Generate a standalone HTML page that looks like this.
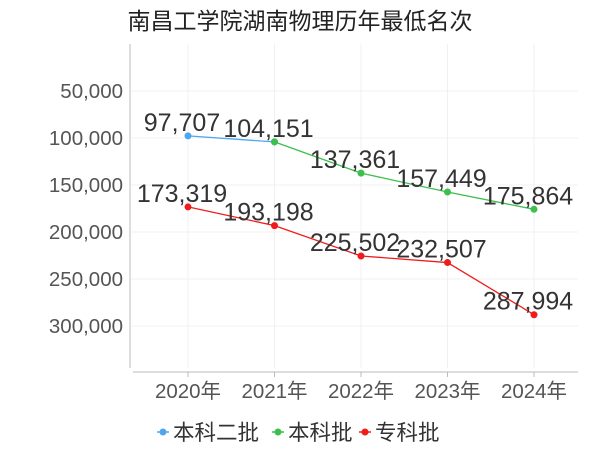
<!DOCTYPE html>
<html><head><meta charset="utf-8"><style>
body{margin:0;background:#fff;font-family:"Liberation Sans","Noto Sans CJK SC",sans-serif}
svg text{font-family:"Liberation Sans","Noto Sans CJK SC",sans-serif}
</style></head><body>
<svg id="c" width="600" height="450">
<text x="300" y="29" font-size="23" text-anchor="middle" fill="#222">南昌工学院湖南物理历年最低名次</text>
<g id="grid"></g><g id="axes"></g><g id="series"></g>
<g id="legend"></g>
</svg>
<script>
const categories=["2020年","2021年","2022年","2023年","2024年"];
const seriesNames=["本科二批","本科批","专科批"];
const seriesColors=["#4da6f0","#3cbf4c","#f01c1c"];
const s0=[97707,104151,null,null,null];
const s1=[null,104151,137361,157449,175864];
const s2=[173319,193198,225502,232507,287994];
const yTicks=[50000,100000,150000,200000,250000,300000];
const NS="http://www.w3.org/2000/svg";
function y(v){return 138+(v-100000)*0.00094;}
function x(i){return 188+i*86.5;}
function el(t,a,p){const e=document.createElementNS(NS,t);for(const k in a)e.setAttribute(k,a[k]);document.getElementById(p).appendChild(e);return e;}
yTicks.forEach(t=>{
 const g=el('line',{x1:131,x2:578,y1:y(t),y2:y(t),stroke:'#f0f0f0'},'grid');
 
 
 const l=el('text',{x:123,y:y(t)+7,'font-size':20.5,'text-anchor':'end',fill:'#555'},'axes');
 l.textContent=t.toLocaleString('en-US');
 
 
});
categories.forEach((c,i)=>{
 const g=el('line',{x1:x(i),x2:x(i),y1:44,y2:368,stroke:'#f0f0f0'},'grid');
 
 
 const tk=el('line',{x1:x(i),x2:x(i),y1:372,y2:377,stroke:'#bbb'},'axes');
 
 
 const l=el('text',{x:x(i),y:398,'font-size':20.5,'text-anchor':'middle',fill:'#555'},'axes');
 l.textContent=c;
 
 
});
const ya=el('line',{x1:130,x2:130,y1:44,y2:368,stroke:'#bbb'},'axes');


const xa=el('line',{x1:133,x2:578,y1:372,y2:372,stroke:'#bbb'},'axes');


const data=[s0,s1,s2];
const shown=[[true,false,false,false,false],[false,true,true,true,true],[true,true,true,true,true]];
data.forEach((s,k)=>{
 const pts=[];s.forEach((v,i)=>{if(v!=null)pts.push(x(i)+','+y(v));});
 const p=el('polyline',{points:pts.join(' '),fill:'none',stroke:seriesColors[k],'stroke-width':1.3},'series');
 
 
 s.forEach((v,i)=>{if(v==null)return;
  const c=el('circle',{cx:x(i),cy:y(v),r:3.5,fill:seriesColors[k]},'series');
  
  
  if(shown[k][i]){
   const t=el('text',{x:x(i)-6,y:y(v)-5,'font-size':25,'text-anchor':'middle',fill:'#333'},'series');
   t.textContent=v.toLocaleString('en-US');
   
   
  }
 });
});
const lx=[163,278,365];
seriesNames.forEach((n,k)=>{
 const l=el('line',{x1:lx[k]-6,x2:lx[k]+6,y1:432,y2:432,stroke:seriesColors[k],'stroke-width':1.5},'legend');
 
 
 const c=el('circle',{cx:lx[k],cy:432,r:3.5,fill:seriesColors[k]},'legend');
 
 
 const t=el('text',{x:lx[k]+10,y:440,'font-size':21.5,fill:'#333'},'legend');
 t.textContent=n;
 
 
});
</script>
</body></html>
